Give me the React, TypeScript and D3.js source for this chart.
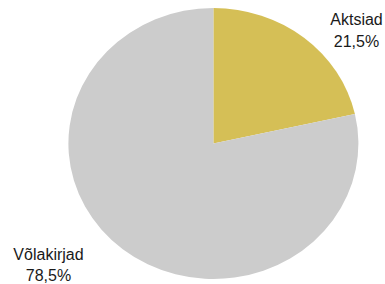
import React from "react";
import * as d3 from "d3";

const categories = ["Aktsiad", "Võlakirjad"];
const values = [21.5, 78.5];
const valueLabels = ["21,5%", "78,5%"];
const colors = ["#D5BF56", "#CCCCCC"];

export default function App() {
  const width = 385;
  const height = 284;
  const cx = 213.4;
  const cy = 143.5;
  const ry = 135.5;
  const rx = 145;
  const pie = d3.pie<number>().sort(null).value((d) => d);
  const arcs = pie(values);
  const arc = d3.arc<d3.PieArcDatum<number>>().innerRadius(0).outerRadius(ry);
  const labelPos = [
    { x: 356.5, y: 25 },
    { x: 48.5, y: 259.5 },
  ];
  return (
    <svg
      width={width}
      height={height}
      style={{ position: "absolute", left: 0, top: 0 }}
    >
      <rect width={width} height={height} fill="#ffffff" />
      <g transform={`translate(${cx},${cy}) scale(${rx / ry},1)`}>
        {arcs.map((a, i) => (
          <path key={i} d={arc(a) || ""} fill={colors[i]} />
        ))}
      </g>
      {categories.map((c, i) => (
        <text
          key={c}
          x={labelPos[i].x}
          y={labelPos[i].y}
          textAnchor="middle"
          fontFamily="'Liberation Sans', Arial, sans-serif"
          fontSize={16}
          fill="#1a1a1a"
        >
          <tspan x={labelPos[i].x}>{c}</tspan>
          <tspan x={labelPos[i].x} dy={21.8}>
            {valueLabels[i]}
          </tspan>
        </text>
      ))}
    </svg>
  );
}
